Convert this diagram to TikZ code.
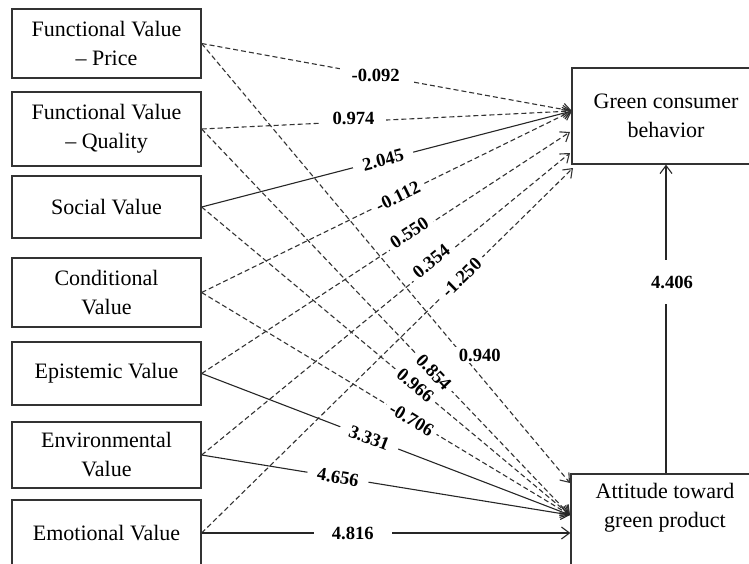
\documentclass[tikz,border=0pt]{standalone}
\usepackage{fontspec}
\setmainfont{Liberation Serif}
\usetikzlibrary{arrows.meta}

\begin{document}
\begin{tikzpicture}[x=0.5pt, y=-0.5pt,
  vbox/.style={draw=black!80, line width=0.65pt, minimum width=94.5pt, inner sep=1pt,
    align=center, font=\fontsize{11}{14.5}\selectfont},
  lbl/.style={fill=white, inner xsep=6pt, inner ysep=1pt, font=\fontsize{9.3}{11}\selectfont\bfseries},
  slbl/.style={lbl, sloped, inner xsep=2.5pt, inner ysep=0.3pt},
  link/.style={-{Straight Barb[length=4pt, width=6pt]}, line width=0.55pt, black!85},
  dlink/.style={link, dash pattern=on 2.5pt off 1.5pt, line width=0.55pt, black!80}]

  % frame of the picture (boxes on the right and bottom run past it)
  \useasboundingbox (0,0) rectangle (749,563);
  \clip (0,0) rectangle (749,563);

  %% Left column: perceived values
  \node[vbox, minimum height=34.5pt] (price) at (106.5,43.5) {Functional Value\\-- Price};
  \node[vbox, minimum height=37pt]   (qual)  at (106.5,129) {Functional Value\\-- Quality};
  \node[vbox, minimum height=31pt]   (soc)   at (106.5,207) {Social Value};
  \node[vbox, minimum height=34.5pt] (cond)  at (106.5,292.5) {Conditional\\Value};
  \node[vbox, minimum height=31.5pt] (epi)   at (106.5,373.5) {Epistemic Value};
  \node[vbox, minimum height=33pt]   (env)   at (106.5,455) {Environmental\\Value};
  \node[vbox, minimum height=33pt]   (emo)   at (106.5,533) {Emotional Value};

  %% Right column: outcomes
  \node[vbox, minimum width=94pt, minimum height=48pt] (gcb) at (666,116)
    {Green consumer\\behavior};
  \node[vbox, minimum width=94.5pt, minimum height=58pt] (att) at (665.5,532) {};
  \node[align=center, font=\fontsize{11}{14.5}\selectfont] (atttxt) at (665,508)
    {Attitude toward\\green product};

  % arrow ends on the outcome boxes
  \coordinate (g1) at (572,111);
  \coordinate (g2) at (570,132);
  \coordinate (g3) at (570,153);
  \coordinate (g4) at (573,168);
  \coordinate (a1) at (570,483);
  \coordinate (a2) at (570,515);

  %% Paths to green consumer behavior
  \draw[dlink] (price.east) -- (g1);
  \draw[dlink] (qual.east)  -- (g1);
  \draw[link]  (soc.east)   -- (g1);
  \draw[dlink] (cond.east)  -- (g1);
  \draw[dlink] (epi.east)   -- (g2);
  \draw[dlink] (env.east)   -- (g3);
  \draw[dlink] (emo.east)   -- (g4);

  %% Paths to attitude toward green product
  \draw[dlink] (price.east) -- (a1);
  \draw[dlink] (qual.east)  -- (a2);
  \draw[dlink] (soc.east)   -- (a2);
  \draw[dlink] (cond.east)  -- (a2);
  \draw[link]  (epi.east)   -- (a2);
  \draw[link]  (env.east)   -- (a2);
  \draw[link]  (emo.east)   -- (emo.east -| att.west);

  % attitude -> behavior
  \draw[link] (att.north -| gcb.south) -- (gcb.south);

  %% Coefficients (on top of all lines)
  \path (price.east) -- (g1) node[lbl, pos=0.47] {-0.092};
  \path (qual.east)  -- (g1) node[lbl, pos=0.41, yshift=1.5pt] {0.974};
  \path (soc.east)   -- (g1) node[slbl, pos=0.49, inner xsep=5pt] {2.045};
  \path (cond.east)  -- (g1) node[slbl, pos=0.53] {-0.112};
  \path (epi.east)   -- (g2) node[slbl, pos=0.57, yshift=2pt] {0.550};
  \path (env.east)   -- (g3) node[slbl, pos=0.63, yshift=2pt] {0.354};
  \path (emo.east)   -- (g4) node[slbl, pos=0.70] {-1.250};
  \path (price.east) -- (a1) node[lbl, pos=0.72, xshift=6.5pt, yshift=2.5pt] {0.940};
  \path (qual.east)  -- (a2) node[slbl, pos=0.63] {0.854};
  \path (soc.east)   -- (a2) node[slbl, pos=0.58] {0.966};
  \path (cond.east)  -- (a2) node[slbl, pos=0.57] {-0.706};
  \path (epi.east)   -- (a2) node[slbl, pos=0.455, inner xsep=5pt] {3.331};
  \path (env.east)   -- (a2) node[slbl, pos=0.37, inner xsep=5pt] {4.656};
  \path (emo.east)   -- (emo.east -| att.west) node[lbl, pos=0.41, inner xsep=9pt] {4.816};
  \path (att.north -| gcb.south) -- (gcb.south) node[lbl, pos=0.62, xshift=3pt, inner ysep=8pt] {4.406};
\end{tikzpicture}
\end{document}
